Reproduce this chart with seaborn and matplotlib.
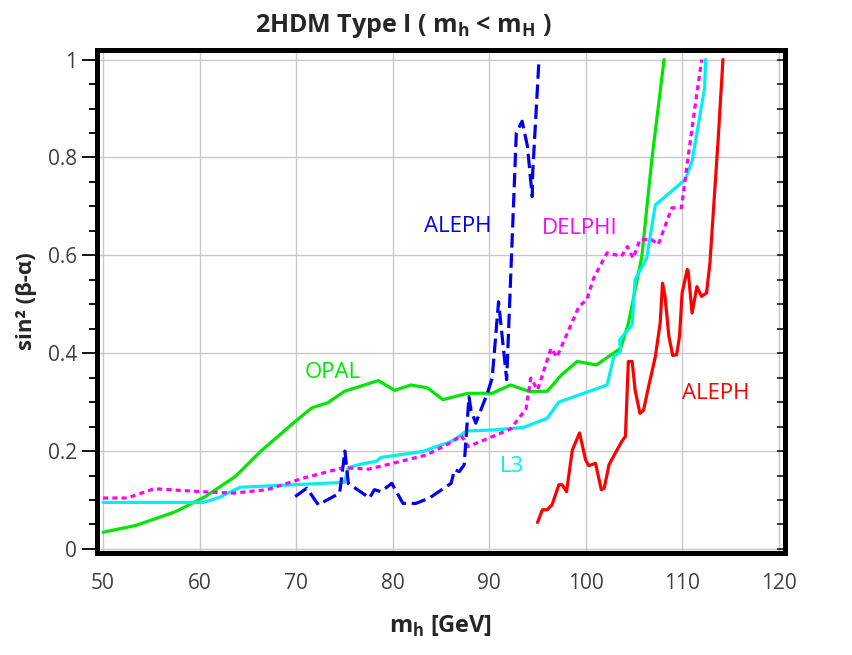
import matplotlib
matplotlib.use("Agg")
import matplotlib.pyplot as plt
from matplotlib.ticker import MultipleLocator
import seaborn as sns

# OPAL (green, solid)
opal_x = [50.0, 53.4, 57.5, 60.6, 63.7, 66.3, 69.7, 71.6, 73.3, 75.0, 78.5, 80.2, 81.9, 83.6,
          85.2, 87.8, 90.3, 92.2, 94.1, 96.0, 97.5, 99.1, 101.1, 103.6, 104.4, 105.8, 106.8, 108.1]
opal_y = [0.034, 0.048, 0.076, 0.107, 0.148, 0.199, 0.257, 0.288, 0.299, 0.322, 0.344, 0.324, 0.335, 0.329,
          0.305, 0.318, 0.318, 0.335, 0.322, 0.322, 0.356, 0.383, 0.376, 0.41, 0.46, 0.598, 0.79, 1.0]

# L3 (cyan, solid)
l3_x = [50.0, 60.4, 62.0, 64.2, 75.0, 75.4, 76.6, 78.3, 78.8, 83.1, 84.5, 86.0, 87.1, 87.6, 90.3,
        93.5, 96.0, 97.2, 102.2, 102.9, 103.6, 103.5, 104.8, 105.1, 106.3, 107.2, 110.3, 111.0, 112.3, 112.4]
l3_y = [0.095, 0.095, 0.105, 0.126, 0.136, 0.166, 0.173, 0.179, 0.187, 0.199, 0.209, 0.219, 0.233, 0.241, 0.243,
        0.248, 0.267, 0.300, 0.335, 0.393, 0.403, 0.427, 0.458, 0.55, 0.594, 0.703, 0.755, 0.792, 0.942, 1.0]

# DELPHI (magenta, dotted)
delphi_x = [50.0, 52.5, 55.3, 60.1, 63.5, 67.0, 70.8, 74.9, 77.5, 79.4, 83.5, 86.2, 87.1, 87.8, 92.2,
            93.8, 94.3, 95.0, 96.4, 97.0, 99.3, 100.1, 100.8, 102.2, 103.7, 104.3, 104.9, 105.6, 106.8,
            107.5, 108.9, 109.9, 110.6, 111.5, 112.0]
delphi_y = [0.104, 0.104, 0.123, 0.117, 0.114, 0.121, 0.145, 0.166, 0.163, 0.172, 0.192, 0.219, 0.232, 0.209, 0.245,
            0.286, 0.349, 0.325, 0.41, 0.392, 0.496, 0.509, 0.553, 0.605, 0.598, 0.618, 0.594, 0.632, 0.632,
            0.622, 0.697, 0.697, 0.802, 0.932, 1.0]

# ALEPH (blue, dashed)
aleph_b_x = [69.9, 71.1, 72.3, 74.5, 75.05, 75.4, 77.6, 78.1, 78.8, 79.9, 81.06, 82.4, 83.8, 86.05,
             86.4, 86.9, 87.4, 87.9, 88.1, 88.6, 89.8, 90.3, 90.96, 91.8, 92.8, 93.4, 93.95, 94.45, 94.5, 95.15]
aleph_b_y = [0.107, 0.124, 0.09, 0.114, 0.2, 0.134, 0.104, 0.121, 0.117, 0.134, 0.093, 0.093, 0.104, 0.134,
             0.162, 0.158, 0.172, 0.311, 0.284, 0.257, 0.318, 0.349, 0.505, 0.346, 0.85, 0.874, 0.823, 0.72, 0.77, 1.0]

# ALEPH (red, solid)
aleph_r_x = [95.0, 95.5, 96.0, 96.5, 97.2, 97.55, 98.0, 98.6, 99.35, 99.97, 100.3, 101.0, 101.6, 101.9,
             102.4, 103.06, 103.7, 104.1, 104.4, 104.8, 105.1, 105.6, 105.98, 106.5, 107.2, 107.7, 107.94,
             108.2, 108.6, 109.0, 109.4, 109.7, 109.97, 110.5, 110.6, 111.0, 111.5, 111.98, 112.5, 112.85,
             113.7, 114.2]
aleph_r_y = [0.054, 0.08, 0.08, 0.09, 0.131, 0.131, 0.117, 0.202, 0.237, 0.182, 0.17, 0.175, 0.121, 0.124,
             0.172, 0.196, 0.219, 0.23, 0.383, 0.383, 0.325, 0.277, 0.284, 0.332, 0.393, 0.462, 0.543,
             0.516, 0.434, 0.395, 0.397, 0.434, 0.523, 0.571, 0.567, 0.482, 0.536, 0.516, 0.523, 0.584,
             0.836, 1.0]

sns.set_style("white")
plt.rcParams["font.family"] = ["Open Sans", "DejaVu Sans"]
plt.rcParams["mathtext.fontset"] = "custom"
plt.rcParams["mathtext.rm"] = "Open Sans"
plt.rcParams["mathtext.bf"] = "Open Sans:bold"

fig = plt.figure(figsize=(8.53, 6.55), dpi=100)
ax = fig.add_axes([0.114, 0.156, 0.806, 0.768])

lw = 2.3
sns.lineplot(x=opal_x, y=opal_y, ax=ax, color="#00e600", lw=lw, sort=False, estimator=None)
sns.lineplot(x=l3_x, y=l3_y, ax=ax, color="#00f0f0", lw=lw, sort=False, estimator=None)
sns.lineplot(x=delphi_x, y=delphi_y, ax=ax, color="#ff00ff", lw=lw, sort=False, estimator=None,
             linestyle=(0, (1.6, 1.3)))
sns.lineplot(x=aleph_b_x, y=aleph_b_y, ax=ax, color="#0000ee", lw=lw, sort=False, estimator=None,
             linestyle=(0, (4.5, 1.8)))
sns.lineplot(x=aleph_r_x, y=aleph_r_y, ax=ax, color="#ff0000", lw=lw, sort=False, estimator=None)

ax.set_xlim(49.4, 120.6)
ax.set_ylim(-0.008, 1.02)
ax.xaxis.set_major_locator(MultipleLocator(10))
ax.xaxis.set_minor_locator(MultipleLocator(2))
ax.yaxis.set_major_locator(MultipleLocator(0.2))
ax.yaxis.set_minor_locator(MultipleLocator(0.05))
ax.set_yticks([0, 0.2, 0.4, 0.6, 0.8, 1.0], ["0", "0.2", "0.4", "0.6", "0.8", "1"])
ax.grid(True, which="major", color="#c8c8c8", lw=1.0)
ax.tick_params(which="both", direction="out", labelsize=15, labelcolor="#404040", color="black",
               width=1.3)
ax.tick_params(which="major", length=11)
ax.tick_params(which="minor", length=6)

ax2 = ax.twinx()
ax2.set_ylim(ax.get_ylim())
ax2.yaxis.set_major_locator(MultipleLocator(0.2))
ax2.yaxis.set_minor_locator(MultipleLocator(0.05))
ax2.tick_params(which="both", direction="in", labelright=False, length=6, width=1.3)

for a in (ax, ax2):
    for s in a.spines.values():
        s.set_color("black")
        s.set_linewidth(3.5)

ax.set_xlabel("m$_\\mathbf{h}$ [GeV]", fontsize=17, fontweight="bold", labelpad=14)
ax.set_ylabel("sin² (β-α)", fontsize=16, fontweight="bold", labelpad=8)
fig.text(403 / 853, 1 - 26 / 655, "2HDM Type I ( m$_\\mathbf{h}$ < m$_\\mathbf{H}$ )",
         ha="center", va="center", fontsize=18, fontweight="bold")

ax.text(86.7, 0.658, "ALEPH", color="#0000ee", fontsize=16, ha="center", va="center")
ax.text(99.4, 0.654, "DELPHI", color="#ff00ff", fontsize=16, ha="center", va="center")
ax.text(73.8, 0.36, "OPAL", color="#00e600", fontsize=16, ha="center", va="center")
ax.text(92.3, 0.168, "L3", color="#00f0f0", fontsize=16, ha="center", va="center")
ax.text(113.5, 0.317, "ALEPH", color="#ff0000", fontsize=16, ha="center", va="center")

fig.savefig("out.png", dpi=100)
